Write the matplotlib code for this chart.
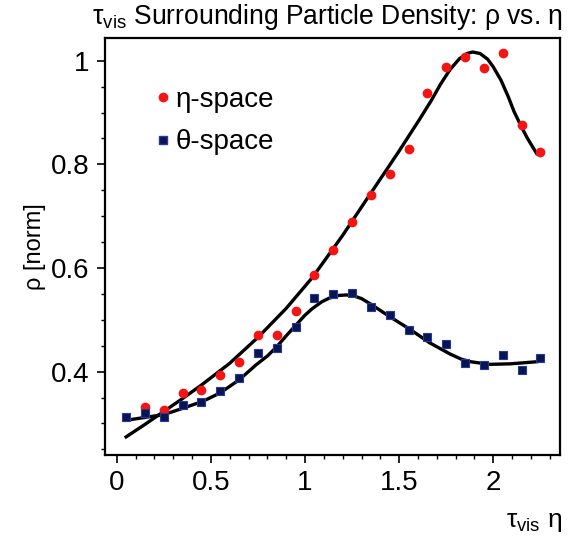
import matplotlib
matplotlib.use("Agg")
import matplotlib.pyplot as plt
from matplotlib.ticker import MultipleLocator, FuncFormatter
from matplotlib.lines import Line2D

plt.rcParams['font.family'] = ['Liberation Sans', 'DejaVu Sans']
plt.rcParams['mathtext.default'] = 'regular'

# data points (bin centres)
eta_x = [0.15, 0.25, 0.35, 0.45, 0.55, 0.65, 0.75, 0.85, 0.95, 1.05, 1.15,
         1.25, 1.35, 1.45, 1.55, 1.65, 1.75, 1.85, 1.95, 2.05, 2.15, 2.25]
eta_y = [0.331, 0.326, 0.358, 0.365, 0.394, 0.419, 0.470, 0.471, 0.517, 0.586, 0.635,
         0.688, 0.740, 0.781, 0.829, 0.938, 0.988, 1.008, 0.986, 1.015, 0.876, 0.824]

theta_x = [0.05, 0.15, 0.25, 0.35, 0.45, 0.55, 0.65, 0.75, 0.85, 0.95, 1.05, 1.15,
           1.25, 1.35, 1.45, 1.55, 1.65, 1.75, 1.85, 1.95, 2.05, 2.15, 2.25]
theta_y = [0.313, 0.321, 0.312, 0.335, 0.342, 0.362, 0.387, 0.436, 0.446, 0.487, 0.542, 0.549,
           0.551, 0.524, 0.510, 0.481, 0.467, 0.453, 0.417, 0.412, 0.432, 0.404, 0.427]

# fit curves
eta_fit_x = [0.05, 0.15, 0.25, 0.35, 0.45, 0.60, 0.75, 0.90, 1.04, 1.20, 1.33, 1.43, 1.50, 1.61,
             1.67, 1.72, 1.77, 1.82, 1.86, 1.89, 1.93, 1.97, 2.00, 2.04, 2.08, 2.11, 2.15, 2.18, 2.23]
eta_fit_y = [0.274, 0.298, 0.323, 0.348, 0.374, 0.416, 0.466, 0.522, 0.582, 0.663, 0.734, 0.788, 0.826, 0.888,
             0.923, 0.955, 0.983, 1.004, 1.014, 1.017, 1.014, 1.003, 0.988, 0.963, 0.930, 0.902, 0.872, 0.851, 0.821]

theta_fit_x = [0.05, 0.14, 0.25, 0.35, 0.46, 0.55, 0.65, 0.74, 0.80, 0.85, 0.90, 0.96, 1.00, 1.04, 1.09, 1.13,
               1.18, 1.22, 1.26, 1.30, 1.35, 1.45, 1.56, 1.66, 1.77, 1.83, 1.88, 1.98, 2.09, 2.23]
theta_fit_y = [0.306, 0.311, 0.317, 0.329, 0.343, 0.359, 0.384, 0.413, 0.430, 0.448, 0.469, 0.493, 0.509, 0.522, 0.535, 0.542,
               0.547, 0.548, 0.546, 0.541, 0.530, 0.506, 0.481, 0.456, 0.434, 0.424, 0.419, 0.414, 0.415, 0.419]

x_ticks = [0, 0.5, 1, 1.5, 2]
y_ticks = [0.4, 0.6, 0.8, 1.0]

W, H = 569, 539
fig = plt.figure(figsize=(W / 100, H / 100), dpi=100)
ax = fig.add_axes([105 / W, 1 - 455 / H, 455 / W, 417 / H])

ax.plot(eta_fit_x, eta_fit_y, color='black', lw=2.4, solid_joinstyle='round', zorder=2)
ax.plot(theta_fit_x, theta_fit_y, color='black', lw=2.4, solid_joinstyle='round', zorder=2)
ax.plot(eta_x, eta_y, 'o', color='#f41414', ms=6, mec='#f41414', zorder=3)
ax.plot(theta_x, theta_y, 's', color='#0c1450', ms=5.5, mec='#1f3aa0', mew=0.8, zorder=4)

ax.set_xlim(-0.062, 2.354)
ax.set_ylim(0.239, 1.044)
ax.set_xticks(x_ticks)
ax.set_yticks(y_ticks)
ax.xaxis.set_minor_locator(MultipleLocator(0.1))
ax.yaxis.set_minor_locator(MultipleLocator(0.05))
fmt = FuncFormatter(lambda v, p: ('%g' % v))
ax.xaxis.set_major_formatter(fmt)
ax.yaxis.set_major_formatter(fmt)
ax.tick_params(which='major', direction='out', length=6, width=1.2, labelsize=20, pad=5)
ax.tick_params(which='minor', direction='out', length=3, width=1.0)
for s in ax.spines.values():
    s.set_linewidth(1.6)

ax.set_ylabel('ρ [norm]', fontsize=17, labelpad=4)
fig.text(562 / W, 1 - 527 / H, r'$\tau_{vis}$ η', fontsize=19, ha='right', va='baseline')
fig.text(92 / W, 1 - 24 / H, r'$\tau_{vis}$ Surrounding Particle Density: ρ vs. η',
         fontsize=19.1, ha='left', va='baseline')

handles = [Line2D([], [], ls='none', marker='o', color='#f41414', ms=6),
           Line2D([], [], ls='none', marker='s', color='#0c1450', mec='#1f3aa0', ms=5.5)]
ax.legend(handles, ['η-space', 'θ-space'], loc='upper left', bbox_to_anchor=(0.085, 0.91),
          frameon=False, fontsize=20, handlelength=0.6, handletextpad=0.15, labelspacing=0.6,
          borderaxespad=0)

fig.savefig('out.png', dpi=100)
